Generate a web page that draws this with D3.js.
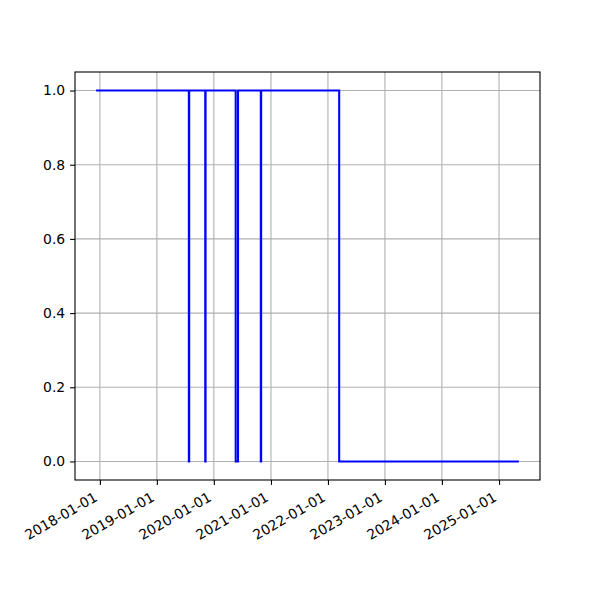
<!DOCTYPE html>
<html><head><meta charset="utf-8">
<script src="https://cdn.jsdelivr.net/npm/d3@7"></script>
<style>body{margin:0;background:#fff}svg{display:block}text{font-family:"DejaVu Sans",sans-serif;font-size:13.9px;fill:#000}</style>
</head><body><svg id="c" width="600" height="600"></svg>
<script>
const dates = ["2017-12-08","2019-07-25","2019-07-27","2019-11-07","2019-11-09","2020-05-20","2020-06-04","2020-10-28","2020-10-30","2022-03-14","2025-05-08"];
const values = [1,0,1,0,1,0,1,0,1,0,0];
const xTicks = ["2018-01-01","2019-01-01","2020-01-01","2021-01-01","2022-01-01","2023-01-01","2024-01-01","2025-01-01"];
const yTicks = [0.0,0.2,0.4,0.6,0.8,1.0];

const parse = d3.utcParse("%Y-%m-%d");
const data = dates.map((d,i)=>({t:parse(d), v:values[i]}));
const L=75,R=540,T=72,B=480;
const svg=d3.select("#c");
const ext=d3.extent(data,d=>d.t);
const span=ext[1]-ext[0];
const x=d3.scaleUtc().domain([new Date(+ext[0]-span*0.05), new Date(+ext[1]+span*0.05)]).range([L,R]);
const y=d3.scaleLinear().domain([-0.05,1.05]).range([B,T]);
const tickDates=xTicks.map(parse);

// grid
const g=svg.append("g");
g.selectAll(".gx").data(tickDates).enter().append("line")
 .attr("x1",d=>x(d)).attr("x2",d=>x(d)).attr("y1",T).attr("y2",B)
 .attr("stroke","#b0b0b0").attr("stroke-width",1.1);
g.selectAll(".gy").data(yTicks).enter().append("line")
 .attr("x1",L).attr("x2",R).attr("y1",d=>y(d)).attr("y2",d=>y(d))
 .attr("stroke","#b0b0b0").attr("stroke-width",1.1);

// line
const line=d3.line().x(d=>x(d.t)).y(d=>y(d.v)).curve(d3.curveStepAfter);
svg.append("path").datum(data).attr("d",line).attr("fill","none").attr("stroke","#0000ff").attr("stroke-width",2.08);

// axes
const xa=svg.append("g").attr("transform",`translate(0,${B})`)
 .call(d3.axisBottom(x).tickValues(tickDates).tickFormat(d3.utcFormat("%Y-%m-%d")).tickSize(4.9).tickSizeOuter(0));
xa.select(".domain").remove();
xa.selectAll(".tick line").attr("stroke","#000").attr("stroke-width",1.1);
xa.selectAll(".tick text").attr("text-anchor","end").attr("font-size",13.9).attr("font-family","DejaVu Sans")
 .attr("y",0).attr("dy",0).attr("transform","translate(-2,20) rotate(-30)");
const ya=svg.append("g").attr("transform",`translate(${L},0)`)
 .call(d3.axisLeft(y).tickValues(yTicks).tickFormat(d3.format(".1f")).tickSize(4.9).tickPadding(4.9).tickSizeOuter(0));
ya.select(".domain").remove();
ya.selectAll(".tick line").attr("stroke","#000").attr("stroke-width",1.1);
ya.selectAll(".tick text").attr("font-size",13.9).attr("font-family","DejaVu Sans");

svg.append("rect").attr("x",L).attr("y",T).attr("width",R-L).attr("height",B-T).attr("fill","none").attr("stroke","#000").attr("stroke-width",1.1);
</script></body></html>
